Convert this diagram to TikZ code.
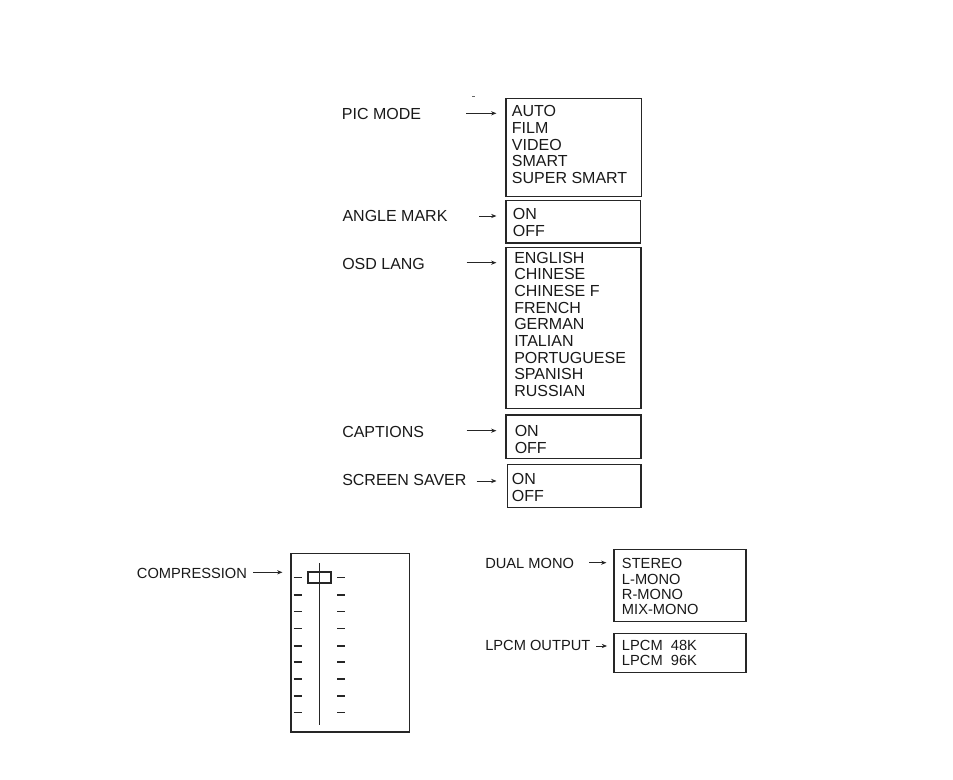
\documentclass[tikz,border=0pt]{standalone}
\usepackage{fontspec}
\setmainfont{Liberation Sans}
\usetikzlibrary{arrows.meta,fit}
\begin{document}
\begin{tikzpicture}[x=0.75pt,y=-0.75pt,
  box/.style={draw=black!85, line width=0.8pt, inner sep=0pt},
  lbl/.style={anchor=west, inner sep=0pt, text height=8.6pt, text depth=0pt, font=\fontsize{12}{12.5}\selectfont, text=black!90},
  lbls/.style={anchor=west, inner sep=0pt, text height=7.9pt, text depth=0pt, font=\fontsize{11}{11.4}\selectfont, text=black!90},
  items/.style={anchor=north west, inner sep=0pt, align=left, font=\fontsize{12}{12.5}\selectfont, text=black!90},
  itemss/.style={anchor=north west, inner sep=0pt, align=left, font=\fontsize{11}{11.4}\selectfont, text=black!90},
  arr/.style={-{Stealth[length=4pt,width=3.2pt]}, line width=0.65pt, draw=black!85},
  tick/.style={line width=0.8pt, draw=black!85},
]
\useasboundingbox (0,0) rectangle (953,780);

% ---------- upper menus ----------
\node[box, fit={(506,98.3) (641.7,196.7)}] (b1) {};
\node[box, fit={(506,200.5) (640.7,243)}] (b2) {};
\node[box, fit={(506,247.3) (641,408.3)}] (b3) {};
\node[box, fit={(506,415) (641,458.3)}] (b4) {};
\node[box, fit={(507.7,464.3) (641,507.7)}] (b5) {};

\node[items] (t1) at (511.7,105.5) {AUTO\\FILM\\VIDEO\\SMART\\SUPER SMART};
\node[items] (t2) at (512.7,208.3) {ON\\OFF};
\node[items] (t3) at (514,251.7) {ENGLISH\\CHINESE\\CHINESE F\\FRENCH\\GERMAN\\ITALIAN\\PORTUGUESE\\SPANISH\\RUSSIAN};
\node[items] (t4) at (514.5,425) {ON\\OFF};
\node[items] (t5) at (511.7,473.3) {ON\\OFF};

\node[lbl] (l1) at (341.7,114) {PIC MODE};
\node[lbl] (l2) at (342.3,216) {ANGLE MARK};
\node[lbl] (l3) at (342,263.5) {OSD LANG};
\node[lbl] (l4) at (342,431.5) {CAPTIONS};
\node[lbl] (l5) at (342,480) {SCREEN SAVER};

\coordinate (a1) at (466,113.3);
\coordinate (a2) at (479,216);
\coordinate (a3) at (466.7,262.7);
\coordinate (a4) at (466.7,430.7);
\coordinate (a5) at (476.7,481);
\draw[arr, shorten >=6.8pt] (a1) -- (a1 -| b1.west);
\draw[arr, shorten >=6.8pt] (a2) -- (a2 -| b2.west);
\draw[arr, shorten >=6.8pt] (a3) -- (a3 -| b3.west);
\draw[arr, shorten >=6.8pt] (a4) -- (a4 -| b4.west);
\draw[arr, shorten >=8pt] (a5) -- (a5 -| b5.west);

\draw[black!60, line width=0.5pt] (472,96.3) -- (475,96.3);

% ---------- compression ----------
\node[lbls] (lc) at (136.7,573) {COMPRESSION};
\node[box, fit={(291,553.3) (409.3,732)}] (bc) {};
\coordinate (ac) at (253,572.3);
\draw[arr, shorten >=6pt] (ac) -- (ac -| bc.west);
\draw[tick] (319.3,563) -- (319.3,725);
\node[box, fit={(308,572) (331,583)}] (slider) {};
\foreach \y in {577.7,595,611.5,628.5,646,662,679,696,712.7}{
  \draw[tick] (293.5,\y) -- (301.7,\y);
  \draw[tick] (337,\y) -- (345,\y);
}

% ---------- audio menus ----------
\node[box, fit={(614,549.3) (746,621.7)}] (bd) {};
\node[box, fit={(614,633.3) (746,672.3)}] (bl) {};
\node[itemss] (td) at (621.7,558.3) {STEREO\\L-MONO\\R-MONO\\MIX-MONO};
\node[itemss] (tl) at (621.7,640) {LPCM\ \ 48K\\LPCM\ \ 96K};
\node[lbls] (ld) at (485,563) {DUAL MONO};
\node[lbls] (ll) at (485,645.5) {LPCM OUTPUT};
\coordinate (ad) at (589,562.7);
\coordinate (al) at (596,646);
\draw[arr, shorten >=5.3pt] (ad) -- (ad -| bd.west);
\draw[arr, shorten >=4.8pt] (al) -- (al -| bl.west);
\end{tikzpicture}
\end{document}
